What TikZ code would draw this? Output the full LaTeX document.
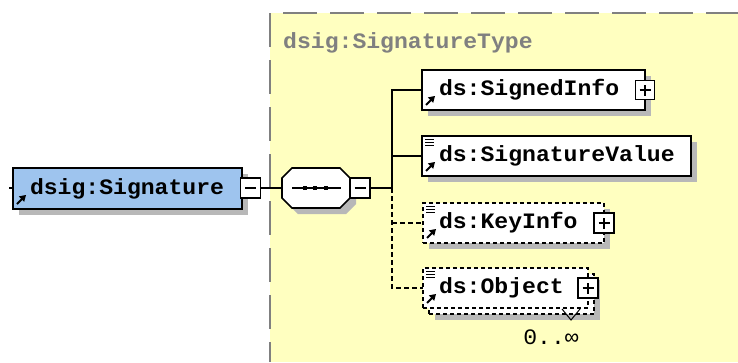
\documentclass[tikz,border=0pt]{standalone}
\usepackage{fontspec}
\newfontfamily\xf[FakeStretch=1.05]{Liberation Mono}
\usetikzlibrary{shadows}
\definecolor{ybg}{RGB}{255,255,192}
\definecolor{blu}{RGB}{158,196,238}
\definecolor{shd}{RGB}{184,184,184}
\definecolor{gbord}{RGB}{128,128,128}
\tikzset{
  lbl/.style={font=\xf\bfseries\fontsize{22}{22}\selectfont},
  elembase/.style={draw, line width=1.6pt, fill=white, anchor=north west, inner sep=0pt, outer sep=0pt,
    align=left, lbl},
  elem/.style={elembase,
    drop shadow={shadow xshift=6pt, shadow yshift=-6pt, fill=shd, opacity=1}},
  optbox/.style={dash pattern=on 4pt off 3pt},
  conn/.style={line width=1.6pt},
  optconn/.style={line width=1.6pt, dash pattern=on 5pt off 3pt},
  pmbox/.style={draw, fill=white, line width=1.4pt, minimum size=20pt, inner sep=0pt, outer sep=0pt},
  minusbox/.style={pmbox, path picture={
      \draw[line width=1.3pt] ([xshift=-5.5pt]path picture bounding box.center) -- ([xshift=5.5pt]path picture bounding box.center);}},
  plusbox/.style={pmbox, path picture={
      \draw[line width=1.3pt] ([xshift=-5.5pt]path picture bounding box.center) -- ([xshift=5.5pt]path picture bounding box.center);
      \draw[line width=1.3pt] ([yshift=-5.5pt]path picture bounding box.center) -- ([yshift=5.5pt]path picture bounding box.center);}},
  refarr/.pic={
    \draw[line width=1.8pt] (4,-5) -- (9,-10);
    \fill (13,-14) -- (11.2,-7.2) -- (5.8,-12.6) -- cycle;},
  simpleicon/.pic={
    \draw[line width=1.1pt] (3,3.5) -- (12,3.5) (3,6.5) -- (12,6.5) (3,9.5) -- (12,9.5);}
}
\begin{document}
\begin{tikzpicture}[x=1pt, y=-1pt, line join=miter]
\useasboundingbox (0,0) rectangle (738,362);
% type area
\fill[ybg] (270,13) rectangle (738,362);
\draw[gbord, line width=2pt, dash pattern=on 34pt off 13pt] (270,13) -- (270,362);
\draw[gbord, line width=2pt, dash pattern=on 34pt off 13pt, dash phase=34pt] (270,13) -- (738,13);
\node[lbl, text=gbord, anchor=west, inner sep=0pt] (title) at (283,43) {dsig:SignatureType};

% root element
\node[elem, fill=blu, text width=229pt, minimum height=41pt] (sig) at (13,168) {\hspace*{17pt}dsig:Signature};
\pic at (sig.south west) {refarr};
\coordinate (in) at (9,188);
\draw[conn] (in) -- (sig.west |- in);
\node[minusbox] (sigm) at (250.5,188) {};

% sequence compositor
\node[minimum width=68pt, minimum height=40pt, inner sep=0pt] (seq) at (316,188) {};
\fill[shd] (298,174) -- (346,174) -- (356,184) -- (356,204) -- (346,214) -- (298,214) -- (288,204) -- (288,184) -- cycle;
\draw[line width=1.6pt, fill=white] (292,168) -- (340,168) -- (350,178) -- (350,198) -- (340,208) -- (292,208) -- (282,198) -- (282,178) -- cycle;
\draw[line width=1.3pt] (292,188) -- (341,188);
\fill (303,186) rectangle (307,190);
\fill (313,186) rectangle (317,190);
\fill (324,186) rectangle (328,190);
\node[minusbox] (seqm) at (360,188) {};
\draw[conn] (sigm.east) -- (seq.west);

% children
\node[elem, text width=223pt, minimum height=40pt] (si) at (422,70) {\hspace*{17pt}ds:SignedInfo};
\pic at (si.south west) {refarr};
\node[plusbox, minimum size=19pt] (siexp) at (si.east) {};

\node[elem, text width=269pt, minimum height=40pt] (sv) at (422,136) {\hspace*{17pt}ds:SignatureValue};
\pic at (sv.south west) {refarr};
\pic at (sv.north west) {simpleicon};

\node[elem, optbox, text width=181pt, minimum height=40pt] (ki) at (423,203) {\hspace*{16pt}ds:KeyInfo};
\pic at (ki.south west) {refarr};
\pic at (ki.north west) {simpleicon};
\node[plusbox] (kiexp) at (ki.east) {};

\node[elem, optbox, text width=165pt, minimum height=40pt] (objb) at (429,274) {};
\node[elembase, optbox, text width=165pt, minimum height=40pt] (obj) at (423,268) {\hspace*{16pt}ds:Object};
\pic at (obj.south west) {refarr};
\pic at (obj.north west) {simpleicon};
\node[plusbox] (objexp) at (obj.east) {};
\draw[line width=1pt] (562,309) -- (571,320) -- (580,309);
\node[font=\xf\fontsize{22}{22}\selectfont, inner sep=0pt] (mult) at (551,337) {0..∞};

% connectors
\coordinate (bus) at (392,188);
\draw[conn] (seqm.east) -- (bus);
\draw[conn] (bus) -- (bus |- si.west) -- (si.west);
\draw[conn] (bus |- sv.west) -- (sv.west);
\draw[optconn] (bus) -- (bus |- obj.west) -- (obj.west);
\draw[optconn] (bus |- ki.west) -- (ki.west);
\end{tikzpicture}
\end{document}
